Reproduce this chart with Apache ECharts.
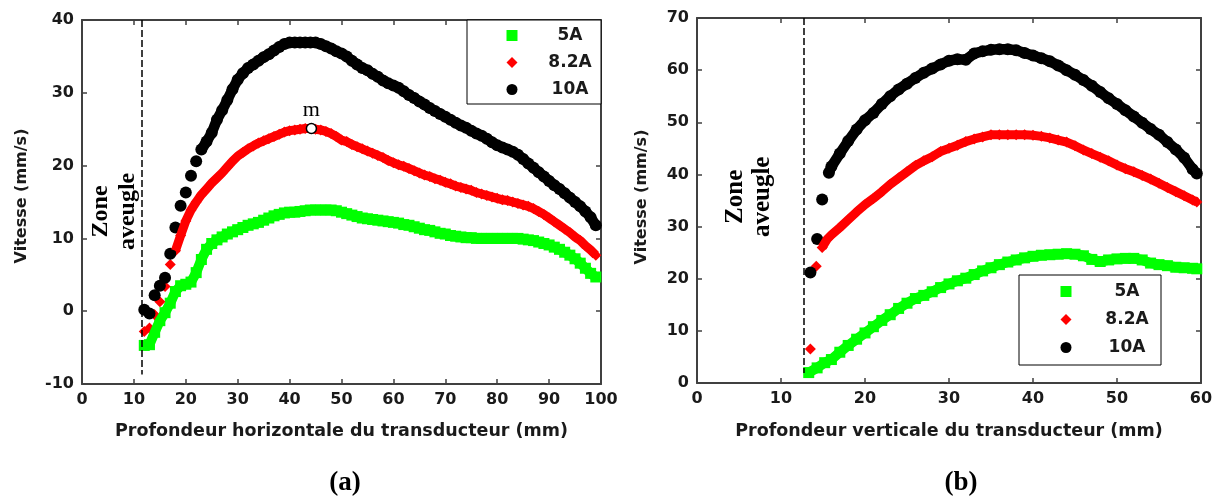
<!DOCTYPE html>
<html>
<head>
<meta charset="utf-8">
<script src="https://cdn.jsdelivr.net/npm/echarts@6/dist/echarts.min.js"></script>
<style>html,body{margin:0;padding:0;background:#fff;}#c{width:1220px;height:498px;}</style>
</head>
<body>
<div id="c"></div>
<script>
// ---------- DATA ----------
const seriesNames = ['5A', '8.2A', '10A'];
// (a) horizontal depth (mm)
const hDepth = [12,13,14,15,16,17,18,19,20,21,22,23,24,25,26,27,28,29,30,31,32,33,34,35,36,37,38,39,40,41,42,43,44,45,46,47,48,49,50,51,52,53,54,55,56,57,58,59,60,61,62,63,64,65,66,67,68,69,70,71,72,73,74,75,76,77,78,79,80,81,82,83,84,85,86,87,88,89,90,91,92,93,94,95,96,97,98,99];
const h5A = [-4.7,-4.6,-2.9,-1.3,-0.2,1.1,2.7,3.5,3.7,4.0,
  5.3,7.1,8.5,9.3,9.8,10.2,10.6,10.9,11.2,11.5,
  11.8,12.0,12.2,12.5,12.8,13.1,13.3,13.5,13.6,13.6,
  13.7,13.8,13.9,13.9,13.9,13.9,13.9,13.8,13.6,13.4,
  13.2,13.0,12.8,12.7,12.6,12.5,12.4,12.3,12.2,12.1,
  11.9,11.8,11.6,11.4,11.2,11.1,10.9,10.7,10.6,10.4,
  10.3,10.2,10.1,10.1,10.0,10.0,10.0,10.0,10.0,10.0,
  10.0,10.0,10.0,9.9,9.8,9.7,9.5,9.3,9.1,8.8,
  8.5,8.1,7.7,7.2,6.6,5.9,5.2,4.7];
const h82A = [-2.8,-2.3,-0.5,1.3,3.4,6.4,8.3,10.4,12.4,13.9,
  15.0,16.0,16.8,17.6,18.3,19.0,19.8,20.6,21.3,21.8,
  22.3,22.7,23.1,23.4,23.7,24.0,24.3,24.6,24.8,24.9,
  25.0,25.1,25.1,25.0,24.9,24.7,24.4,24.0,23.5,23.3,
  22.9,22.6,22.3,22.0,21.7,21.4,21.1,20.7,20.4,20.1,
  19.9,19.6,19.3,19.0,18.7,18.5,18.2,18.0,17.7,17.5,
  17.2,17.0,16.8,16.6,16.3,16.1,15.9,15.7,15.5,15.3,
  15.2,15.0,14.8,14.6,14.4,14.1,13.7,13.3,12.8,12.3,
  11.8,11.3,10.8,10.2,9.7,9.0,8.4,7.7];
const h10A = [0.2,-0.3,2.2,3.5,4.6,7.9,11.5,14.5,16.3,18.6,
  20.6,22.2,23.3,24.5,26.3,27.6,29.0,30.5,31.8,32.7,
  33.4,33.9,34.4,34.9,35.3,35.8,36.3,36.7,36.9,36.9,
  36.9,36.9,36.9,36.9,36.7,36.4,36.1,35.7,35.4,35.0,
  34.4,33.9,33.4,33.1,32.6,32.2,31.7,31.3,31.0,30.7,
  30.2,29.7,29.3,28.8,28.4,27.9,27.5,27.1,26.7,26.3,
  25.9,25.5,25.2,24.8,24.4,24.1,23.7,23.2,22.8,22.5,
  22.2,21.9,21.5,20.9,20.3,19.7,19.1,18.5,17.9,17.3,
  16.8,16.2,15.6,15.0,14.4,13.7,12.9,11.8];
// depth from which the measured points form a continuous band
const hBandFrom = { '5A': 12, '8.2A': 18, '10A': 23 };
const hBlindZone = 11.5;          // mm
const hBlindRange = [40, -8.7];   // mm/s
const mPoint = [44.2, 25.1];
const hZoneLabel = [6.2, 13.7];

// (b) vertical depth (mm)
const vDepth = [16,17,18,19,20,21,22,23,24,25,26,27,28,29,30,31,32,33,34,35,36,37,38,39,40,41,42,43,44,45,46,47,48,49,50,51,52,53,54,55,56,57,58,59,59.5];
const v5AStartDepth = [13.3, 14.3, 15.2];
const v5AStart = [2.0, 2.9, 3.9];
const v82AStartDepth = [13.5, 14.2, 14.9, 15.5];
const v82AStart = [6.5, 22.4, 26.0, 27.6];
const v10AStartDepth = [13.5, 14.3, 14.9, 15.7];
const v10AStart = [21.2, 27.6, 35.2, 40.3];
const v5A = [4.5,5.9,7.2,8.4,9.6,10.8,12.0,13.1,14.3,15.3,
  16.2,16.8,17.5,18.3,19.0,19.6,20.1,20.8,21.5,22.1,
  22.7,23.2,23.6,24.0,24.3,24.5,24.6,24.7,24.8,24.7,
  24.4,23.7,23.3,23.6,23.8,23.9,23.9,23.6,23.0,22.7,
  22.5,22.2,22.1,22.0,21.9];
const v82A = [28.4,29.8,31.3,32.8,34.2,35.4,36.7,38.1,39.3,40.5,
  41.7,42.6,43.4,44.4,45.0,45.6,46.3,46.8,47.2,47.6,
  47.6,47.6,47.6,47.6,47.5,47.3,47.0,46.6,46.2,45.5,
  44.7,44.0,43.3,42.6,41.8,41.1,40.5,39.8,39.1,38.3,
  37.5,36.7,35.9,35.1,34.7];
const v10A = [41.5,44.0,46.4,48.6,50.4,51.8,53.5,55.0,56.3,57.4,
  58.5,59.5,60.3,61.1,61.8,62.1,62.0,63.2,63.6,63.9,
  64.0,64.0,63.8,63.3,62.8,62.3,61.7,60.9,60.0,59.1,
  58.1,57.0,55.8,54.6,53.5,52.3,51.1,49.9,48.7,47.6,
  46.2,44.8,43.2,41.0,40.2];
const vBandFrom = { '5A': 13.3, '8.2A': 14.9, '10A': 15.7 };
const vBlindZone = 12.7;
const vBlindRange = [70, 1.9];
const vZoneLabel = [6.2, 35.7];

// ---------- HELPERS ----------
function pairs(xs, ys) { return xs.map((x, i) => [x, ys[i]]); }

const COLORS = { '5A': '#00ff00', '8.2A': '#ff0000', '10A': '#000000' };
const SYMBOLS = { '5A': 'rect', '8.2A': 'diamond', '10A': 'circle' };
const SIZES = { '5A': 11, '8.2A': 11, '10A': 12 };
const BANDW = { '5A': 10, '8.2A': 9, '10A': 10.5 };
const AX = '#404040';
const labelFont = { fontFamily: 'DejaVu Sans', fontWeight: 'bold', fontSize: 16, color: '#1a1a1a' };
const nameFont = { fontFamily: 'DejaVu Sans', fontWeight: 'bold', fontSize: 17.5, color: '#1a1a1a' };
const yNameFont = { fontFamily: 'DejaVu Sans', fontWeight: 'bold', fontSize: 16, color: '#1a1a1a' };

function mainAxis(grid, min, max, pos, name, gap, pad, font) {
  return {
    type: 'value', gridIndex: grid, min: min, max: max, interval: 10, position: pos,
    name: name, nameLocation: 'middle', nameGap: gap,
    nameTextStyle: Object.assign({ padding: pad || 0 }, font || nameFont),
    axisLine: { show: true, onZero: false, lineStyle: { color: AX, width: 2 } },
    axisTick: { show: true, inside: true, length: 5, lineStyle: { color: AX, width: 1.5 } },
    axisLabel: Object.assign({ margin: 8 }, labelFont),
    splitLine: { show: false }
  };
}
function boxAxis(grid, min, max, pos) {
  return {
    type: 'value', gridIndex: grid, min: min, max: max, interval: 10, position: pos,
    axisLine: { show: true, onZero: false, lineStyle: { color: AX, width: 2 } },
    axisTick: { show: true, inside: true, length: 5, lineStyle: { color: AX, width: 1.5 } },
    axisLabel: { show: false }, splitLine: { show: false }
  };
}
function scatter(name, data, xi, yi, extra) {
  return Object.assign({
    type: 'scatter', name: name, data: data, xAxisIndex: xi, yAxisIndex: yi,
    symbol: SYMBOLS[name], symbolSize: SIZES[name], itemStyle: { color: COLORS[name], opacity: 1 },
    emphasis: { disabled: true }, silent: true
  }, extra || {});
}
function band(name, data, from, xi, yi) {
  return {
    type: 'line', name: name + ' band', data: data.filter(p => p[0] >= from), xAxisIndex: xi, yAxisIndex: yi,
    showSymbol: false, symbol: 'none', silent: true, smooth: false,
    lineStyle: { color: COLORS[name], width: BANDW[name], join: 'round' },
    emphasis: { disabled: true }
  };
}
function dashLine(x, range) {
  return {
    silent: true, symbol: 'none', label: { show: false },
    lineStyle: { color: '#000', width: 1.5, type: [7, 3] },
    data: [[{ coord: [x, range[0]] }, { coord: [x, range[1]] }]]
  };
}
function legendAt(left, top, pad, gap, textPad) {
  return {
    left: left, top: top, orient: 'vertical', padding: pad,
    itemWidth: 11, itemHeight: 11, itemGap: gap,
    borderColor: '#000', borderWidth: 1, backgroundColor: '#fff',
    data: seriesNames, selectedMode: false,
    formatter: n => '{a|' + n + '}',
    textStyle: { rich: { a: { fontFamily: 'DejaVu Sans', fontWeight: 'bold', fontSize: 17, color: '#1a1a1a',
      width: 50, align: 'center', padding: [0, 0, 0, textPad], lineHeight: 20 } } }
  };
}

const hData = { '5A': pairs(hDepth, h5A), '8.2A': pairs(hDepth, h82A), '10A': pairs(hDepth, h10A) };
const vData = {
  '5A': pairs(v5AStartDepth, v5AStart).concat(pairs(vDepth, v5A)),
  '8.2A': pairs(v82AStartDepth, v82AStart).concat(pairs(vDepth, v82A)),
  '10A': pairs(v10AStartDepth, v10AStart).concat(pairs(vDepth, v10A))
};

const series = [];
seriesNames.forEach(n => {
  const extra = {};
  if (n === '5A') extra.markLine = dashLine(hBlindZone, hBlindRange);
  if (n === '10A') extra.markPoint = {
    silent: true, symbol: 'circle', symbolSize: 10,
    itemStyle: { color: '#fff', borderColor: '#000', borderWidth: 1.5 },
    label: { show: true, position: 'top', distance: 2, formatter: 'm',
      fontFamily: 'Liberation Serif', fontSize: 22, color: '#000' },
    data: [{ coord: mPoint }]
  };
  series.push(band(n, hData[n], hBandFrom[n], 0, 0));
  series.push(scatter(n, hData[n], 0, 0, extra));
});
seriesNames.forEach(n => {
  const extra = {};
  if (n === '5A') extra.markLine = dashLine(vBlindZone, vBlindRange);
  series.push(band(n, vData[n], vBandFrom[n], 2, 2));
  series.push(scatter(n, vData[n], 2, 2, extra));
});

const chart = echarts.init(document.getElementById('c'), null, { renderer: 'canvas' });
const option = {
  animation: false,
  backgroundColor: '#fff',
  grid: [
    { left: 82, top: 20, width: 519, height: 364 },
    { left: 697, top: 18, width: 504, height: 365 }
  ],
  legend: [
    legendAt(467, 20, [7, 6, 6, 39.5], 10, 22.5),
    legendAt(1019, 275, [8, 9, 9, 41.5], 11, 25.5)
  ],
  xAxis: [
    mainAxis(0, 0, 100, 'bottom', 'Profondeur horizontale du transducteur (mm)', 38),
    boxAxis(0, 0, 100, 'top'),
    mainAxis(1, 0, 60, 'bottom', 'Profondeur verticale du transducteur (mm)', 39),
    boxAxis(1, 0, 60, 'top')
  ],
  yAxis: [
    mainAxis(0, -10, 40, 'left', 'Vitesse (mm/s)', 52, [0, 0, 0, 12], yNameFont),
    boxAxis(0, -10, 40, 'right'),
    mainAxis(1, 0, 70, 'left', 'Vitesse (mm/s)', 47, [0, 0, 0, 7], yNameFont),
    boxAxis(1, 0, 70, 'right')
  ],
  series: series
};
chart.setOption(option);

const pa = chart.convertToPixel({ xAxisIndex: 0, yAxisIndex: 0 }, hZoneLabel);
const pb = chart.convertToPixel({ xAxisIndex: 2, yAxisIndex: 2 }, vZoneLabel);
const zoneStyle = { text: 'Zone\naveugle', fontFamily: 'Liberation Serif', fontWeight: 'bold', fontSize: 24,
  lineHeight: 27, fill: '#000', textAlign: 'center', textVerticalAlign: 'middle' };
chart.setOption({
  graphic: [
    { type: 'text', x: pa[0], y: pa[1], rotation: Math.PI / 2, silent: true, style: zoneStyle },
    { type: 'text', x: pb[0], y: pb[1], rotation: Math.PI / 2, silent: true, style: Object.assign({}, zoneStyle, { fontSize: 25 }) },
    { type: 'text', x: 345, y: 483, silent: true, style: { text: '(a)', fontFamily: 'Liberation Serif', fontWeight: 'bold', fontSize: 27, fill: '#000', textAlign: 'center', textVerticalAlign: 'middle' } },
    { type: 'text', x: 961, y: 483, silent: true, style: { text: '(b)', fontFamily: 'Liberation Serif', fontWeight: 'bold', fontSize: 27, fill: '#000', textAlign: 'center', textVerticalAlign: 'middle' } }
  ]
});
</script>
</body>
</html>
